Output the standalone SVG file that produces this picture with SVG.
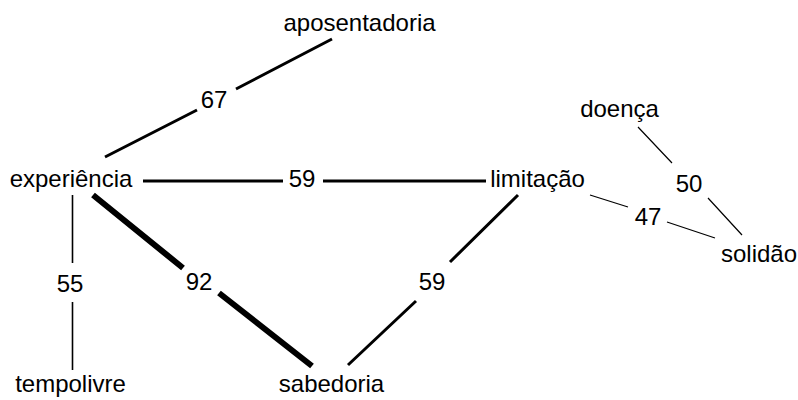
<svg xmlns="http://www.w3.org/2000/svg" width="798" height="400" viewBox="0 0 798 400">
<style>
.lbl{font-family:"Liberation Sans",Arial,sans-serif;font-size:24px;fill:#000;text-anchor:middle}
.w{font-family:"Liberation Sans",Arial,sans-serif;font-size:24px;fill:#000;text-anchor:middle}
.e{stroke:#000;fill:none;stroke-linecap:butt}
.t1{stroke-width:1.2}
.t2{stroke-width:1.6}
.t3{stroke-width:3}
.t6{stroke-width:6}
</style>
<rect width="798" height="400" fill="#fff"/>
<g id="edges">
<g id="e-exp-apos"><path class="e t3" d="M105,157L197,110M236,89L332,39"/><text class="w" x="214" y="108">67</text></g>
<g id="e-exp-lim"><path class="e t3" d="M143,181H283M323,181H486"/><text class="w" x="302" y="187">59</text></g>
<g id="e-exp-tempo"><path class="e t2" d="M72.5,195V263M72.5,302V370"/><text class="w" x="70" y="292">55</text></g>
<g id="e-exp-sab"><path class="e t6" d="M93,195L183,268M219,293L312,366"/><text class="w" x="199" y="290">92</text></g>
<g id="e-lim-sab"><path class="e t3" d="M518,195L450,262M416,301L348,365"/><text class="w" x="432" y="290">59</text></g>
<g id="e-lim-sol"><path class="e t1" d="M590,195L628,207M667,222L715,238"/><text class="w" x="648" y="225">47</text></g>
<g id="e-doe-sol"><path class="e t1" d="M638,127L672,163M708,198L742,235"/><text class="w" x="689" y="192">50</text></g>
</g>
<g id="aposentadoria"><text class="lbl" x="359.5" y="31">aposentadoria</text></g>
<g id="experiencia"><text class="lbl" x="71" y="187">experiência</text></g>
<g id="limitacao"><text class="lbl" x="537.5" y="187">limitação</text></g>
<g id="doenca"><text class="lbl" x="619.5" y="117">doença</text></g>
<g id="solidao"><text class="lbl" x="759" y="262">solidão</text></g>
<g id="tempolivre"><text class="lbl" x="70.5" y="392">tempolivre</text></g>
<g id="sabedoria"><text class="lbl" x="331.5" y="392">sabedoria</text></g>
</svg>
